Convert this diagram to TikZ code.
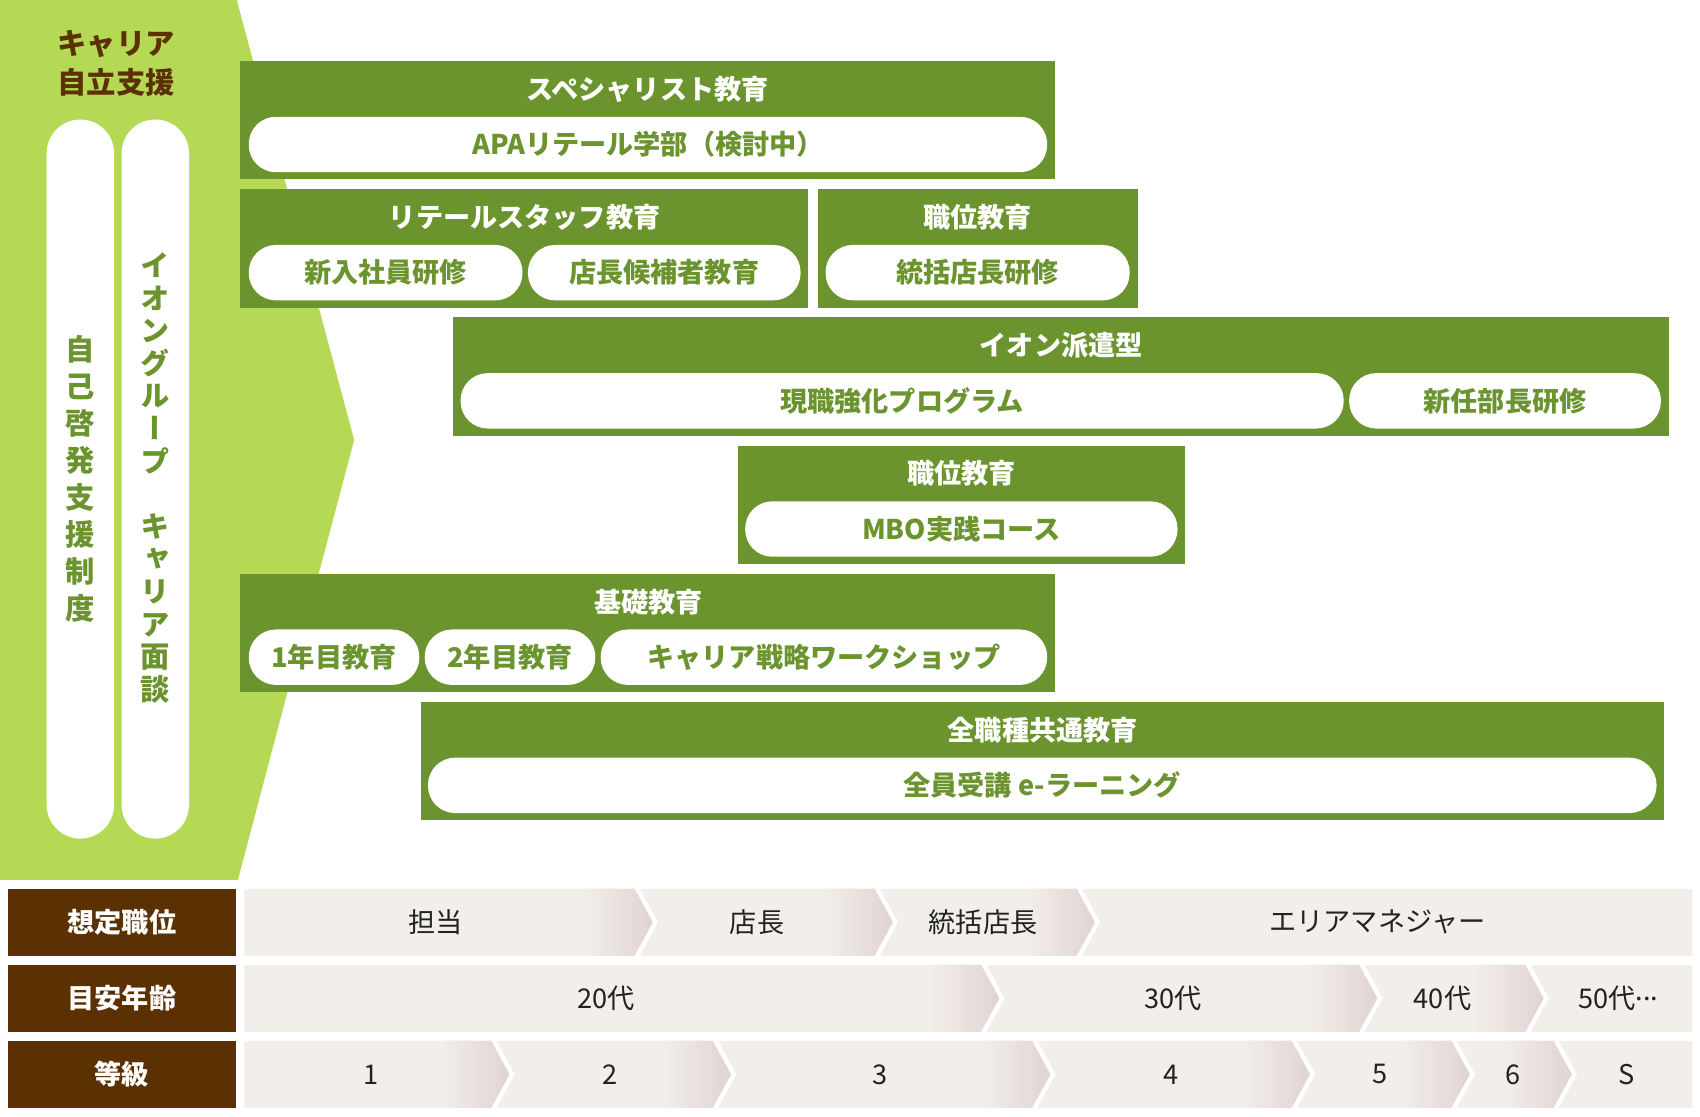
\documentclass[tikz,border=0pt]{standalone}
\usepackage{fontspec}
\setmainfont{Noto Sans CJK JP}
\newfontfamily\vjp[RawFeature=+vert]{Noto Sans CJK JP}
\definecolor{boxgreen}{HTML}{6B942E}
\definecolor{lightgreen}{HTML}{B5D955}
\definecolor{brownc}{HTML}{5B3103}
\definecolor{beige}{HTML}{F2EEEA}
\definecolor{beigedark}{HTML}{E0D3D0}
\definecolor{txtdark}{HTML}{222222}
\tikzset{
  gbox/.style={fill=boxgreen, inner sep=0pt, anchor=north west},
  htxt/.style={text=white, inner sep=0pt, font=\bfseries\fontsize{25}{30}\selectfont},
  pill/.style={fill=white, rounded corners=25pt, minimum height=51pt, inner sep=0pt, text=boxgreen, font=\bfseries\fontsize{25}{30}\selectfont},
  vpill/.style={fill=white, rounded corners=31pt, minimum width=62pt, minimum height=662pt, inner sep=0pt},
  vtxt/.style={text=boxgreen, inner sep=0pt, align=center},
  lbl/.style={fill=brownc, text=white, minimum width=210pt, minimum height=62pt, inner sep=0pt, anchor=north west, font=\bfseries\fontsize{25}{30}\selectfont},
  rtxt/.style={text=txtdark, inner sep=0pt, font=\fontsize{25}{30}\selectfont}
}
\newcommand\bseg[5]{%
  \pgfmathsetmacro\yb{#3+62}\pgfmathsetmacro\ym{#3+31}%
  \pgfmathsetmacro\dl{#4*17}\pgfmathsetmacro\dr{#5*17}%
  \begin{scope}
    \path[clip] (#1,#3) -- (#2,#3) -- (#2+\dr,\ym) -- (#2,\yb) -- (#1,\yb) -- (#1+\dl,\ym) -- cycle;
    \fill[beige] (#1,#3) rectangle (#2+17,\yb);
    \ifnum#5=1 \shade[left color=beige,right color=beigedark] (#2-45,#3) rectangle (#2+17,\yb);\fi
  \end{scope}}
\begin{document}
\begin{tikzpicture}[x=1pt,y=-1pt]
\useasboundingbox (0,0) rectangle (1565,1028);
\fill[white] (0,0) rectangle (1565,1028);
% left band
\fill[lightgreen] (0,0) -- (218,0) -- (326,405) -- (219,810) -- (0,810) -- cycle;
\node[text=brownc, align=center, inner sep=0pt, font=\bfseries\fontsize{27}{36}\selectfont] (title) at (107,58) {キャリア\\自立支援};
\node[vpill] (vp1) at (74,441) {};
\node[vpill] (vp2) at (143,441) {};
\node[vtxt, font=\vjp\bfseries\fontsize{27}{34}\selectfont] (vt1) at (74,441) {自\\己\\啓\\発\\支\\援\\制\\度};
\node[vtxt, font=\vjp\bfseries\fontsize{27}{30}\selectfont] (vt2) at (143,440) {イ\\オ\\ン\\グ\\ル\\ー\\プ\\　\\キ\\ャ\\リ\\ア\\面\\談};
% A
\node[gbox, minimum width=750pt, minimum height=109pt] (A) at (221,56) {};
\node[htxt] (Ah) at (596,82) {スペシャリスト教育};
\node[pill, minimum width=735pt] (Ap) at (596.5,133) {APAリテール学部（検討中）};
% B
\node[gbox, minimum width=523pt, minimum height=109pt] (B) at (221,174) {};
\node[htxt] (Bh) at (483,200) {リテールスタッフ教育};
\node[pill, minimum width=252pt] (Bp1) at (355,251) {新入社員研修};
\node[pill, minimum width=251pt] (Bp2) at (611.5,251) {店長候補者教育};
% C
\node[gbox, minimum width=294pt, minimum height=109pt] (C) at (753,174) {};
\node[htxt] (Ch) at (900,200) {職位教育};
\node[pill, minimum width=280pt] (Cp) at (900,251) {統括店長研修};
% D
\node[gbox, minimum width=1119pt, minimum height=109pt] (D) at (417,292) {};
\node[htxt] (Dh) at (977,318) {イオン派遣型};
\node[pill, minimum width=813pt] (Dp1) at (830.5,369) {現職強化プログラム};
\node[pill, minimum width=287pt] (Dp2) at (1385.5,369) {新任部長研修};
% E
\node[gbox, minimum width=412pt, minimum height=109pt] (E) at (679,410) {};
\node[htxt] (Eh) at (885,436) {職位教育};
\node[pill, minimum width=398pt] (Ep) at (885,487) {MBO実践コース};
% F
\node[gbox, minimum width=750pt, minimum height=109pt] (F) at (221,528) {};
\node[htxt] (Fh) at (597,554) {基礎教育};
\node[pill, minimum width=157pt] (Fp1) at (307.5,605) {1年目教育};
\node[pill, minimum width=157pt] (Fp2) at (469.5,605) {2年目教育};
\node[pill, minimum width=411pt] (Fp3) at (758.5,605) {キャリア戦略ワークショップ};
% G
\node[gbox, minimum width=1145pt, minimum height=109pt] (G) at (387,646) {};
\node[htxt] (Gh) at (960,672) {全職種共通教育};
\node[pill, minimum width=1131pt] (Gp) at (959.5,723) {全員受講 e-ラーニング};
% labels
\node[lbl] (L1) at (7,818) {想定職位};
\node[lbl] (L2) at (7,888) {目安年齢};
\node[lbl] (L3) at (7,958) {等級};
% row 1
\bseg{225}{584}{818}{0}{1}
\bseg{589}{805}{818}{1}{1}
\bseg{810}{991}{818}{1}{1}
\bseg{996}{1558}{818}{1}{0}
% row 2
\bseg{225}{903}{888}{0}{1}
\bseg{908}{1251}{888}{1}{1}
\bseg{1256}{1404}{888}{1}{1}
\bseg{1409}{1558}{888}{1}{0}
% row 3
\bseg{225}{452}{958}{0}{1}
\bseg{457}{656}{958}{1}{1}
\bseg{661}{950}{958}{1}{1}
\bseg{955}{1189}{958}{1}{1}
\bseg{1194}{1336}{958}{1}{1}
\bseg{1341}{1430}{958}{1}{1}
\bseg{1435}{1558}{958}{1}{0}
% row texts
\node[rtxt] (r11) at (401,849) {担当};
\node[rtxt] (r12) at (697,849) {店長};
\node[rtxt] (r13) at (905,849) {統括店長};
\node[rtxt] (r14) at (1268,849) {エリアマネジャー};
\node[rtxt] (r21) at (558,919) {20代};
\node[rtxt] (r22) at (1080,919) {30代};
\node[rtxt] (r23) at (1328,919) {40代};
\node[rtxt] (r24) at (1490,919) {50代\raisebox{7pt}{...}};
\node[rtxt] (r31) at (342,989) {1};
\node[rtxt] (r32) at (562,989) {2};
\node[rtxt] (r33) at (810,989) {3};
\node[rtxt] (r34) at (1078,989) {4};
\node[rtxt] (r35) at (1270,989) {5};
\node[rtxt] (r36) at (1393,989) {6};
\node[rtxt] (r37) at (1497,989) {S};
\end{tikzpicture}
\end{document}
